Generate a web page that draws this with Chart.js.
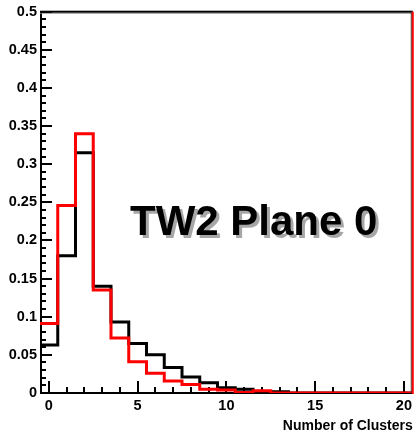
<!DOCTYPE html>
<html><head><meta charset="utf-8">
<script src="https://cdn.jsdelivr.net/npm/chart.js@4.4.0/dist/chart.umd.min.js"></script>
<style>html,body{margin:0;padding:0;background:#fff;overflow:hidden}</style>
</head><body>
<canvas id="c" width="416" height="435" style="width:416px;height:435px;display:block"></canvas>
<script>
// ---- data ----
const binCenters  = [0,1,2,3,4,5,6,7,8,9,10,11,12,13,14,15,16,17,18,19,20];
const blackValues = [0.063,0.180,0.315,0.140,0.093,0.065,0.050,0.0335,0.021,0.0135,0.007,0.0048,0.002,0.0015,0,0,0,0,0,0,0];
const redValues   = [0.091,0.246,0.340,0.135,0.072,0.041,0.026,0.0157,0.0113,0.0048,0.004,0.0005,0.003,0,0,0,0,0,0,0,0];
const xTickLabels = [0,5,10,15,20];
const yTickLabels = [0,0.05,0.1,0.15,0.2,0.25,0.3,0.35,0.4,0.45,0.5];
const panelLabel  = 'TW2 Plane 0';
const xTitle      = 'Number of Clusters';

const FONT = "'Liberation Sans',Arial,sans-serif";

// histogram outline points: each bin contributes its two edges
function histPoints(centers, vals){
  const pts = [];
  centers.forEach((c,i)=>{ pts.push({x:c-0.5,y:vals[i]}); pts.push({x:c+0.5,y:vals[i]}); });
  return pts;
}

const framePlugin = {
  id:'frame',
  beforeDatasetsDraw(chart){
    const {ctx, chartArea:a, scales:{x,y}} = chart;
    ctx.save();
    ctx.strokeStyle = '#000';
    ctx.lineWidth = 2;
    ctx.beginPath(); ctx.moveTo(a.left+1, a.top); ctx.lineTo(a.left+1, a.bottom+1); ctx.stroke();
    ctx.beginPath(); ctx.moveTo(a.left, a.bottom); ctx.lineTo(a.right, a.bottom); ctx.stroke();
    for(let k=0;k<=50;k++){
      const v = k/100, py = Math.round(y.getPixelForValue(v));
      const len = (k%5===0)?12:6;
      ctx.beginPath(); ctx.moveTo(a.left, py); ctx.lineTo(a.left+len, py); ctx.stroke();
    }
    for(let v=0; v<=20; v++){
      const px = Math.round(x.getPixelForValue(v));
      const len = (v%5===0)?12:6;
      ctx.beginPath(); ctx.moveTo(px, a.bottom); ctx.lineTo(px, a.bottom-len); ctx.stroke();
    }
    ctx.restore();
  },
  afterDatasetsDraw(chart){
    const {ctx, chartArea:a} = chart;
    ctx.save();
    ctx.fillStyle = '#888'; ctx.fillRect(a.left, a.top+1, a.right-a.left, 1);
    ctx.fillStyle = '#000'; ctx.fillRect(a.left, a.top-1, a.right-a.left, 2);
    ctx.fillStyle = '#333'; ctx.fillRect(a.right-2, a.top, 1, a.bottom-a.top);
    ctx.fillStyle = '#ff0000'; ctx.fillRect(a.right-1, a.top, 2, a.bottom-a.top+1);
    ctx.restore();
  },
  afterDraw(chart){
    const {ctx} = chart;
    ctx.save();
    ctx.font = "bold 42px 'Liberation Sans',Arial,sans-serif";
    ctx.textBaseline = 'alphabetic';
    ctx.textAlign = 'left';
    ctx.fillStyle = 'rgba(0,0,0,0.35)';
    ctx.fillText(panelLabel, 133, 238);
    ctx.fillStyle = '#000';
    ctx.fillText(panelLabel, 130, 235);
    ctx.restore();
  }
};

new Chart(document.getElementById('c'), {
  type:'line',
  data:{
    datasets:[
      {label:'red', data:histPoints(binCenters, redValues), borderColor:'#ff0000', borderWidth:3, fill:false, pointRadius:0, tension:0, borderJoinStyle:'miter', borderCapStyle:'butt'},
      {label:'black', data:histPoints(binCenters, blackValues), borderColor:'#000000', borderWidth:3, fill:false, pointRadius:0, tension:0, borderJoinStyle:'miter', borderCapStyle:'butt'}
    ]
  },
  options:{
    responsive:false, animation:false, devicePixelRatio:1,
    layout:{padding:{top:10,right:2,left:0,bottom:0}},
    plugins:{legend:{display:false}, tooltip:{enabled:false}},
    scales:{
      x:{
        type:'linear', min:-0.5, max:20.5,
        afterBuildTicks(s){ s.ticks = xTickLabels.map(v=>({value:v})); },
        afterFit(s){ s.height = 42; },
        grid:{display:false, drawTicks:false}, border:{display:false},
        ticks:{color:'#000', font:{family:FONT,size:14.5,weight:'bold'}, padding:4, maxRotation:0, autoSkip:false, callback:v=>String(v)},
        title:{display:true, text:xTitle, align:'end', color:'#000', font:{family:FONT,size:14,weight:'bold'}, padding:{top:0,bottom:0}}
      },
      y:{
        type:'linear', min:0, max:0.5,
        afterBuildTicks(s){ s.ticks = yTickLabels.map(v=>({value:v})); },
        afterFit(s){ s.width = 40; },
        grid:{display:false, drawTicks:false}, border:{display:false},
        ticks:{color:'#000', font:{family:FONT,size:14.5,weight:'bold'}, padding:3, autoSkip:false, callback:v=>String(parseFloat(Number(v).toFixed(2)))}
      }
    }
  },
  plugins:[framePlugin]
});
</script>
</body></html>
